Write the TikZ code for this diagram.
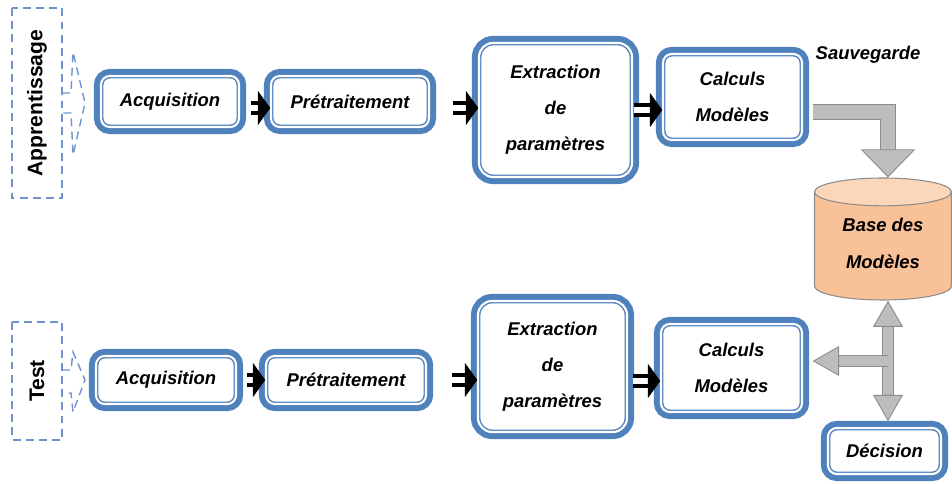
\documentclass[tikz,border=0pt]{standalone}
\usepackage{fontspec}
\setmainfont{Liberation Sans}
\usetikzlibrary{shapes.geometric, positioning, arrows.meta}
\definecolor{BoxBlue}{HTML}{4F81BD}
\definecolor{DashBlue}{HTML}{7193CB}
\definecolor{BaseOrange}{HTML}{F9C197}
\definecolor{BaseTop}{HTML}{FBD6B8}
\definecolor{ArrowGray}{HTML}{BDBDBD}
\definecolor{ArrowEdge}{HTML}{8C8C8C}

\begin{document}
\begin{tikzpicture}[
    modbox/.style={rounded corners=5pt, fill=white,
      preaction={draw=BoxBlue, line width=8pt},
      draw=BoxBlue, line width=0.8pt, double=white, double distance=1.2pt,
      font=\bfseries\itshape\fontsize{10.5}{20.5}\selectfont, align=center},
    phasebox/.style={draw=DashBlue, line width=0.8pt, dash pattern=on 4.5pt off 3pt,
      font=\bfseries\fontsize{12}{14}\selectfont},
    phaseline/.style={draw=DashBlue, line width=0.8pt, dash pattern=on 4.5pt off 3pt},
    blockarrow/.style={draw=black, line width=2pt, double=white, double distance=3.6pt,
      -{Triangle[length=7pt, width=19pt]}},
    grayarrow/.style={draw=ArrowEdge, line width=0.5pt, double=ArrowGray, double distance=8pt},
  ]
  \useasboundingbox (0,0) rectangle (19.04,9.68);

  % Phases
  \node[phasebox, rotate=90, minimum width=3.8cm, minimum height=1.0cm] (app) at (0.74,7.62) {Apprentissage};
  \node[phasebox, rotate=90, minimum width=2.36cm, minimum height=1.0cm] (test) at (0.74,2.06) {Test};
  \draw[phaseline] (1.24,7.82) -- (1.42,7.82) -- (1.46,8.64) -- (1.70,7.62) -- (1.46,6.58) -- (1.42,7.42) -- (1.24,7.42);
  \draw[phaseline] (1.24,2.28) -- (1.42,2.28) -- (1.46,2.64) -- (1.70,2.08) -- (1.46,1.44) -- (1.42,1.82) -- (1.24,1.82);

  % Apprentissage chain
  \node[modbox, minimum width=2.76cm, minimum height=1.02cm] (acq1) at (3.40,7.65) {Acquisition};
  \node[modbox, minimum width=3.16cm, minimum height=1.02cm] (pre1) at (7.00,7.65) {Prétraitement};
  \node[modbox, minimum width=3.06cm, minimum height=2.68cm, rounded corners=8pt] (ext1) at (11.11,7.48) {Extraction\\de\\paramètres};
  \node[modbox, minimum width=2.78cm, minimum height=1.72cm] (calc1) at (14.65,7.74) {Calculs\\Modèles};

  \draw[blockarrow, shorten <=0.22cm] ([yshift=-0.13cm]acq1.east) -- ([yshift=-0.13cm]pre1.west);
  \draw[blockarrow, shorten <=0.46cm] ([yshift=-0.13cm]pre1.east) -- ([yshift=-0.13cm]pre1.east -| ext1.west);
  \draw[blockarrow, shorten <=0.02cm] ([yshift=-0.26cm]ext1.east |- calc1.east) -- ([yshift=-0.26cm]calc1.west);

  % Base des modeles
  \node[font=\bfseries\itshape\fontsize{10.5}{12}\selectfont] (save) at (17.36,8.58) {Sauvegarde};
  \node[cylinder, shape border rotate=90, aspect=0.3, draw=ArrowEdge, line width=0.6pt,
    cylinder uses custom fill, cylinder body fill=BaseOrange, cylinder end fill=BaseTop,
    minimum width=2.74cm, minimum height=2.44cm, anchor=shape center,
    font=\bfseries\itshape\fontsize{10.5}{21}\selectfont, align=center] (base) at (17.66,4.90) {Base des\\Modèles\\[-14pt]\mbox{}};

  \coordinate (sv) at ([yshift=-0.3cm]calc1.east);
  \draw[grayarrow, -{Triangle[length=16pt, width=31pt, fill=ArrowGray]}, shorten <=0.2cm] (sv) -| ([xshift=0.1cm]base.top);

  % Test chain
  \node[modbox, minimum width=2.80cm, minimum height=0.96cm] (acq2) at (3.32,2.08) {Acquisition};
  \node[modbox, minimum width=3.20cm, minimum height=0.96cm] (pre2) at (6.92,2.08) {Prétraitement};
  \node[modbox, minimum width=2.98cm, minimum height=2.62cm, rounded corners=8pt] (ext2) at (11.05,2.35) {Extraction\\de\\paramètres};
  \node[modbox, minimum width=2.82cm, minimum height=1.76cm] (calc2) at (14.63,2.32) {Calculs\\Modèles};
  \node[modbox, minimum width=2.26cm, minimum height=0.92cm] (dec) at (17.69,0.66) {Décision};

  \draw[blockarrow, shorten <=0.2cm] (acq2) -- (pre2);
  \draw[blockarrow, shorten <=0.5cm] (pre2.east) -- (pre2.east -| ext2.west);
  \draw[blockarrow, shorten <=0.1cm] ([yshift=-0.26cm]ext2.east |- calc2.east) -- ([yshift=-0.26cm]calc2.west);

  % Comparaison
  \coordinate (top) at ([xshift=0.1cm]base.bottom);
  \coordinate (jn) at ([yshift=0.14cm]top |- calc2.east);
  \draw[grayarrow, double distance=6pt, {Triangle[length=15pt, width=17pt, fill=ArrowGray]}-{Triangle[length=15pt, width=17pt, fill=ArrowGray]}, shorten >=0.12cm] (top) -- (top |- dec.north);
  \draw[grayarrow, double distance=6pt, -{Triangle[length=15pt, width=17pt, fill=ArrowGray]}, shorten >=0.2cm] (jn) -- (jn -| calc2.east);
\end{tikzpicture}
\end{document}
